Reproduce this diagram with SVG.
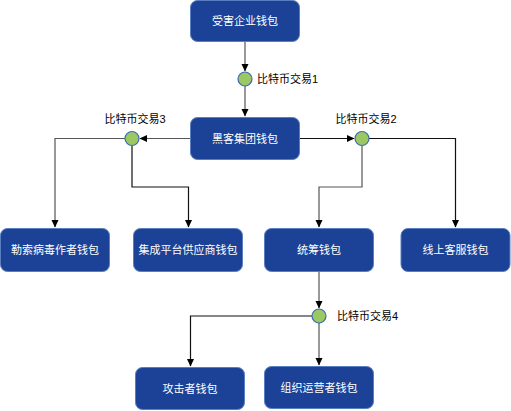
<svg xmlns="http://www.w3.org/2000/svg" width="511" height="411" viewBox="0 0 511 411">
<style>
.box{fill:#1b4297;stroke:#5a7fc0;stroke-width:1}
.bt{fill:#ffffff;font-family:"Liberation Sans","Noto Sans CJK SC",sans-serif;font-size:11px;text-anchor:middle;dominant-baseline:central}
.hub{fill:#9bc862;stroke:#3c6bb0;stroke-width:1.2}
.lb{fill:#000;font-family:"Liberation Sans","Noto Sans CJK SC",sans-serif;font-size:11px;dominant-baseline:central}
.e{fill:none;stroke:#555;stroke-width:1.2}
.k{fill:none;stroke:#111;stroke-width:1.2}
</style>
<defs>
<marker id="ar" markerWidth="8" markerHeight="8" refX="7" refY="4" orient="auto" markerUnits="userSpaceOnUse">
<path d="M0,0.5 L7.5,4 L0,7.5 z" fill="#000"/>
</marker>
</defs>
<g id="connectors">
<path class="e" d="M245,42 V71" marker-end="url(#ar)"/>
<path class="e" d="M245,86 V116" marker-end="url(#ar)"/>
<path class="e" d="M190,138.5 H140" marker-end="url(#ar)"/>
<path class="k" d="M300,138.5 H354" marker-end="url(#ar)"/>
<path class="e" d="M125,138.5 H55 V227" marker-end="url(#ar)"/>
<path class="k" d="M132,146 V187 H188.5 V227" marker-end="url(#ar)"/>
<path class="e" d="M362,146 V187 H319 V227" marker-end="url(#ar)"/>
<path class="k" d="M369,138.5 H455.5 V227" marker-end="url(#ar)"/>
<path class="e" d="M319,271 V308" marker-end="url(#ar)"/>
<path class="k" d="M312,316 H190.5 V366" marker-end="url(#ar)"/>
<path class="e" d="M319,323 V365" marker-end="url(#ar)"/>
</g>
<g id="n1"><rect class="box" x="190.5" y="0.5" width="109" height="41" rx="7"/><text class="bt" x="245" y="21">受害企业钱包</text></g>
<g id="h1"><circle class="hub" cx="245" cy="79" r="7"/><text class="lb" x="257" y="79">比特币交易1</text></g>
<g id="n2"><rect class="box" x="190.5" y="117.5" width="109" height="42" rx="7"/><text class="bt" x="245" y="138.5">黑客集团钱包</text></g>
<g id="h3"><circle class="hub" cx="132" cy="138.5" r="7"/><text class="lb" x="135" y="119" text-anchor="middle">比特币交易3</text></g>
<g id="h2"><circle class="hub" cx="362" cy="138.5" r="7"/><text class="lb" x="366" y="119" text-anchor="middle">比特币交易2</text></g>
<g id="n3"><rect class="box" x="0.5" y="228.5" width="109" height="43" rx="7"/><text class="bt" x="55" y="250">勒索病毒作者钱包</text></g>
<g id="n4"><rect class="box" x="133.5" y="228.5" width="109" height="43" rx="7"/><text class="bt" x="188" y="250">集成平台供应商钱包</text></g>
<g id="n5"><rect class="box" x="264.5" y="228.5" width="109" height="43" rx="7"/><text class="bt" x="319" y="250">统筹钱包</text></g>
<g id="n6"><rect class="box" x="401" y="228.5" width="109" height="43" rx="7"/><text class="bt" x="455.5" y="250">线上客服钱包</text></g>
<g id="h4"><circle class="hub" cx="319" cy="316" r="7"/><text class="lb" x="337" y="316">比特币交易4</text></g>
<g id="n7"><rect class="box" x="135.5" y="367.5" width="109" height="42" rx="7"/><text class="bt" x="190" y="388.5">攻击者钱包</text></g>
<g id="n8"><rect class="box" x="264.5" y="366.5" width="109" height="42" rx="7"/><text class="bt" x="319" y="387.5">组织运营者钱包</text></g>
</svg>
